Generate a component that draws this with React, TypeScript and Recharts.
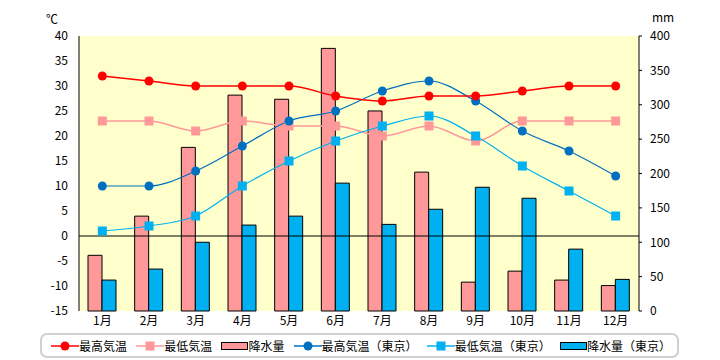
import {
  Bar,
  CartesianGrid,
  ComposedChart,
  Line,
  ReferenceLine,
  XAxis,
  YAxis,
} from "recharts";

const months = ["1月", "2月", "3月", "4月", "5月", "6月", "7月", "8月", "9月", "10月", "11月", "12月"];
const maxTemp = [32, 31, 30, 30, 30, 28, 27, 28, 28, 29, 30, 30];
const minTemp = [23, 23, 21, 23, 22, 22, 20, 22, 19, 23, 23, 23];
const rain = [81, 138, 238, 314, 308, 382, 291, 202, 42, 58, 45, 37];
const tokyoMax = [10, 10, 13, 18, 23, 25, 29, 31, 27, 21, 17, 12];
const tokyoMin = [1, 2, 4, 10, 15, 19, 22, 24, 20, 14, 9, 4];
const tokyoRain = [45, 61, 100, 125, 138, 186, 126, 148, 180, 164, 90, 46];
const tempTicks = [-15, -10, -5, 0, 5, 10, 15, 20, 25, 30, 35, 40];
const rainTicks = [0, 50, 100, 150, 200, 250, 300, 350, 400];

const data = months.map((m, i) => ({
  month: m,
  maxTemp: maxTemp[i],
  minTemp: minTemp[i],
  rain: rain[i],
  tokyoMax: tokyoMax[i],
  tokyoMin: tokyoMin[i],
  tokyoRain: tokyoRain[i],
}));

const FONT = "'Noto Sans CJK JP', sans-serif";
const tick = { fill: "#000", fontSize: 12, fontFamily: FONT };

// square marker for the min-temperature series
const squareDot = (color: string) => (p: any) => (
  <rect key={p.index} x={p.cx - 4.5} y={p.cy - 4.5} width={9} height={9} fill={color} />
);

/* legend is plain html below the plot, like the original's boxed legend */
function LegendIcon({ kind, color }: { kind: string; color: string }) {
  if (kind === "bar") {
    return (
      <svg width={27} height={10}>
        <rect x={0.5} y={1.5} width={26} height={7} fill={color} stroke="#000" />
      </svg>
    );
  }
  return (
    <svg width={28} height={12}>
      <line x1={0} x2={28} y1={6} y2={6} stroke={color} strokeWidth={1.5} />
      {kind === "circle" ? (
        <circle cx={14} cy={6} r={4.5} fill={color} />
      ) : (
        <rect x={9.5} y={1.5} width={9} height={9} fill={color} />
      )}
    </svg>
  );
}

const legendItems = [
  { name: "最高気温", kind: "circle", color: "#FF0000" },
  { name: "最低気温", kind: "square", color: "#FF9999" },
  { name: "降水量", kind: "bar", color: "#FF9999" },
  { name: "最高気温（東京）", kind: "circle", color: "#0070C0" },
  { name: "最低気温（東京）", kind: "square", color: "#00B0F0" },
  { name: "降水量（東京）", kind: "bar", color: "#00B0F0" },
];

export default function App() {
  return (
    <div style={{ position: "relative", width: 720, height: 360, background: "#fff", fontFamily: FONT }}>
      <style>{`body{margin:0}`}</style>
      <ComposedChart width={720} height={360} data={data} margin={{ top: 36, right: 0, bottom: 0, left: 0 }} barGap={0}>
        <CartesianGrid fill="#FFFFCC" horizontal={false} vertical={false} yAxisId="left" />
        <XAxis
          dataKey="month"
          axisLine={false}
          tickLine={false}
          tickSize={4}
          tickMargin={1}
          height={49}
          tick={tick}
          interval={0}
        />
        <YAxis
          yAxisId="left"
          domain={[-15, 40]}
          ticks={tempTicks}
          width={79}
          tick={tick}
          tickLine={false}
          tickSize={8}
          tickMargin={3}
          axisLine={{ stroke: "#000" }}
          interval={0}
        />
        <YAxis
          yAxisId="right"
          orientation="right"
          domain={[0, 400]}
          ticks={rainTicks}
          width={81}
          tick={tick}
          tickSize={3}
          tickMargin={8}
          tickLine={{ stroke: "#000" }}
          axisLine={{ stroke: "#000" }}
          interval={0}
        />
        <Bar yAxisId="right" dataKey="rain" barSize={14} fill="#FF9999" stroke="#000" strokeWidth={1} isAnimationActive={false} />
        <Bar yAxisId="right" dataKey="tokyoRain" barSize={14} fill="#00B0F0" stroke="#000" strokeWidth={1} isAnimationActive={false} />
        <ReferenceLine yAxisId="left" y={0} stroke="#000" strokeWidth={1} />
        <Line
          yAxisId="left"
          type="monotone"
          dataKey="minTemp"
          stroke="#FF9999"
          strokeWidth={1.5}
          dot={squareDot("#FF9999")}
          activeDot={false}
          isAnimationActive={false}
        />
        <Line
          yAxisId="left"
          type="monotone"
          dataKey="tokyoMin"
          stroke="#00B0F0"
          strokeWidth={1.2}
          dot={squareDot("#00B0F0")}
          activeDot={false}
          isAnimationActive={false}
        />
        <Line
          yAxisId="left"
          type="monotone"
          dataKey="tokyoMax"
          stroke="#0070C0"
          strokeWidth={1.2}
          dot={{ r: 4.5, fill: "#0070C0", stroke: "none" }}
          activeDot={false}
          isAnimationActive={false}
        />
        <Line
          yAxisId="left"
          type="monotone"
          dataKey="maxTemp"
          stroke="#FF0000"
          strokeWidth={1.5}
          dot={{ r: 4.5, fill: "#FF0000", stroke: "none" }}
          activeDot={false}
          isAnimationActive={false}
        />
      </ComposedChart>

      <div style={{ position: "absolute", left: 46, top: 10, fontSize: 12 }}>℃</div>
      <div style={{ position: "absolute", left: 652, top: 8, fontSize: 12 }}>mm</div>

      <div
        style={{
          position: "absolute",
          left: 40,
          top: 333,
          width: 639,
          height: 25,
          boxSizing: "border-box",
          border: "2px solid #d0d0d0",
          borderRadius: 7,
          display: "flex",
          alignItems: "center",
          justifyContent: "space-between",
          padding: "0 6px 0 9px",
          fontSize: 12,
          color: "#000",
        }}
      >
        {legendItems.map((it) => (
          <div key={it.name} style={{ display: "flex", alignItems: "center", whiteSpace: "nowrap" }}>
            <LegendIcon kind={it.kind} color={it.color} />
            <span>{it.name}</span>
          </div>
        ))}
      </div>
    </div>
  );
}
